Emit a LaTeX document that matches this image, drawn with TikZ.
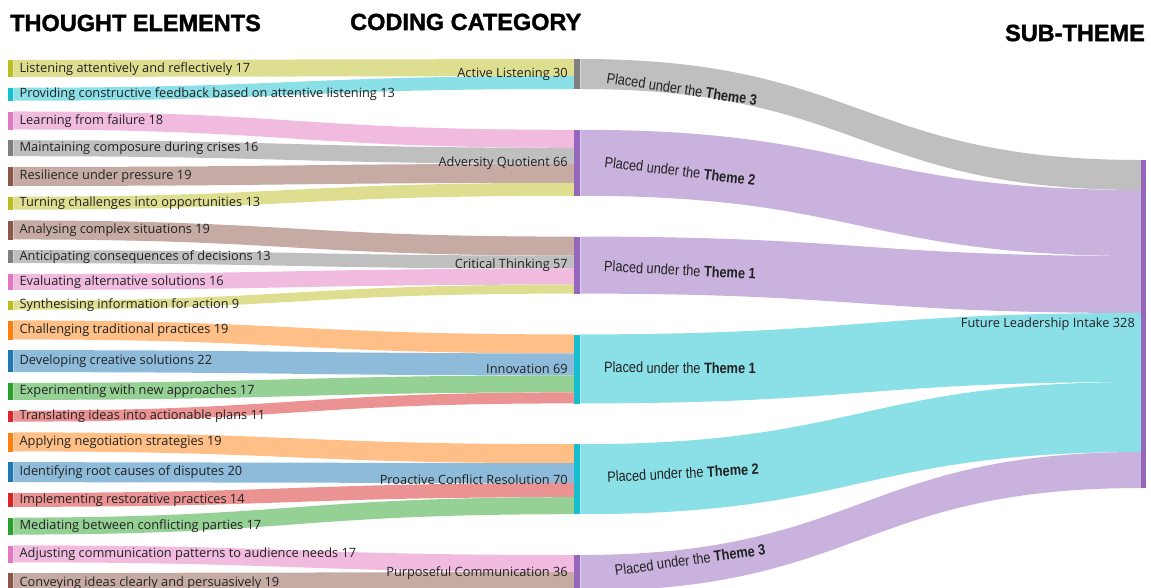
\documentclass[tikz,border=0pt]{standalone}
\usepackage{fontspec}
\usetikzlibrary{calc,positioning,backgrounds}

\newfontfamily\elemfont{Open Sans}
\newfontfamily\headfont[BoldFeatures={FakeBold=1.5}]{Liberation Sans}
\newfontfamily\themefont[FakeStretch=0.85]{Liberation Sans}

\definecolor{cOlive}{HTML}{BCBD22}
\definecolor{cCyan}{HTML}{17BECF}
\definecolor{cPink}{HTML}{E377C2}
\definecolor{cGrey}{HTML}{7F7F7F}
\definecolor{cBrown}{HTML}{8C564B}
\definecolor{cOrange}{HTML}{FF7F0E}
\definecolor{cBlue}{HTML}{1F77B4}
\definecolor{cGreen}{HTML}{2CA02C}
\definecolor{cRed}{HTML}{D62728}
\definecolor{cPurple}{HTML}{9467BD}
\definecolor{ink}{HTML}{222222}

\tikzset{
  elem/.style={fill=#1, anchor=north west, minimum width=5.5pt, inner sep=0pt},
  cat/.style={fill=#1, anchor=north west, minimum width=6pt, inner sep=0pt},
  elemlabel/.style={font=\elemfont\fontsize{12.8}{15}\selectfont, text=ink, inner sep=0pt},
  themelabel/.style={font=\themefont\fontsize{15}{17}\selectfont, text=ink, inner sep=0pt},
  head/.style={font=\headfont\bfseries\fontsize{23.5}{26}\selectfont, inner sep=0pt}
}

% band from a node (offset down its side) to another node
\newcommand\flowband[6]{%
  \fill[#6!50!white] ($(#1.north east)+(0,#2)$) .. controls +(280,0) and +(-280,0) ..
    ($(#3.north west)+(0,#4)$) -- ++(0,#5) .. controls +(-280,0) and +(280,0) ..
    ($(#1.north east)+(0,#2+#5)$) -- cycle;}

\begin{document}
\begin{tikzpicture}[x=1pt,y=-1pt]
  \useasboundingbox (0,0) rectangle (1151,587);
  \clip (0,0) rectangle (1151,587);

  \node[head, anchor=west] (h1) at (10,23) {THOUGHT ELEMENTS};
  \node[head, anchor=west] (h2) at (350,22) {CODING CATEGORY};
  \node[head, anchor=east] (h3) at (1145,33) {SUB-THEME};

  % thought elements
  \node[elem=cOlive, minimum height=17] (listen) at (7.5,60) {};
  \node[elem=cCyan, minimum height=13] (provide) at (7.5,87.74) {};
  \node[elem=cPink, minimum height=18] (learn) at (7.5,111.48) {};
  \node[elem=cGrey, minimum height=16] (compose) at (7.5,140.22) {};
  \node[elem=cBrown, minimum height=19] (resil) at (7.5,166.96) {};
  \node[elem=cOlive, minimum height=13] (turn) at (7.5,196.7) {};
  \node[elem=cBrown, minimum height=19] (analyse) at (7.5,220.44) {};
  \node[elem=cGrey, minimum height=13] (anticip) at (7.5,250.18) {};
  \node[elem=cPink, minimum height=16] (evaluate) at (7.5,273.92) {};
  \node[elem=cOlive, minimum height=9] (synth) at (7.5,300.66) {};
  \node[elem=cOrange, minimum height=19] (challenge) at (7.5,320.4) {};
  \node[elem=cBlue, minimum height=22] (develop) at (7.5,350.14) {};
  \node[elem=cGreen, minimum height=17] (experiment) at (7.5,382.88) {};
  \node[elem=cRed, minimum height=11] (translate) at (7.5,410.62) {};
  \node[elem=cOrange, minimum height=19] (negotiate) at (7.5,432.36) {};
  \node[elem=cBlue, minimum height=20] (rootcause) at (7.5,462.1) {};
  \node[elem=cRed, minimum height=14] (restore) at (7.5,492.84) {};
  \node[elem=cGreen, minimum height=17] (mediate) at (7.5,517.58) {};
  \node[elem=cPink, minimum height=17] (adjust) at (7.5,545.32) {};
  \node[elem=cBrown, minimum height=19] (convey) at (7.5,573.06) {};

  % coding categories
  \node[cat=cGrey, minimum height=30] (actlisten) at (574,59) {};
  \node[cat=cPurple, minimum height=66] (adversity) at (574,129.8) {};
  \node[cat=cPurple, minimum height=57] (critical) at (574,236.6) {};
  \node[cat=cCyan, minimum height=69] (innov) at (574,334.4) {};
  \node[cat=cCyan, minimum height=70] (conflict) at (574,444.2) {};
  \node[cat=cPurple, minimum height=36] (purpcomm) at (574,555) {};

  % sub-theme
  \node[cat=cPurple, minimum width=5pt, minimum height=328] (intake) at (1141,160) {};

  \begin{pgfonlayer}{background}
    \flowband{listen}{0}{actlisten}{0}{17}{cOlive}
    \flowband{provide}{0}{actlisten}{17}{13}{cCyan}
    \flowband{learn}{0}{adversity}{0}{18}{cPink}
    \flowband{compose}{0}{adversity}{18}{16}{cGrey}
    \flowband{resil}{0}{adversity}{34}{19}{cBrown}
    \flowband{turn}{0}{adversity}{53}{13}{cOlive}
    \flowband{analyse}{0}{critical}{0}{19}{cBrown}
    \flowband{anticip}{0}{critical}{19}{13}{cGrey}
    \flowband{evaluate}{0}{critical}{32}{16}{cPink}
    \flowband{synth}{0}{critical}{48}{9}{cOlive}
    \flowband{challenge}{0}{innov}{0}{19}{cOrange}
    \flowband{develop}{0}{innov}{19}{22}{cBlue}
    \flowband{experiment}{0}{innov}{41}{17}{cGreen}
    \flowband{translate}{0}{innov}{58}{11}{cRed}
    \flowband{negotiate}{0}{conflict}{0}{19}{cOrange}
    \flowband{rootcause}{0}{conflict}{19}{20}{cBlue}
    \flowband{restore}{0}{conflict}{39}{14}{cRed}
    \flowband{mediate}{0}{conflict}{53}{17}{cGreen}
    \flowband{adjust}{0}{purpcomm}{0}{17}{cPink}
    \flowband{convey}{0}{purpcomm}{17}{19}{cBrown}

    \flowband{actlisten}{0}{intake}{0}{30}{cGrey}
    \flowband{adversity}{0}{intake}{30}{66}{cPurple}
    \flowband{critical}{0}{intake}{96}{57}{cPurple}
    \flowband{innov}{0}{intake}{153}{69}{cCyan}
    \flowband{conflict}{0}{intake}{222}{70}{cCyan}
    \flowband{purpcomm}{0}{intake}{292}{36}{cPurple}
  \end{pgfonlayer}

  \node[elemlabel, right=6pt of listen] (listenlab) {Listening attentively and reflectively 17};
  \node[elemlabel, right=6pt of provide] (providelab) {Providing constructive feedback based on attentive listening 13};
  \node[elemlabel, right=6pt of learn] (learnlab) {Learning from failure 18};
  \node[elemlabel, right=6pt of compose] (composelab) {Maintaining composure during crises 16};
  \node[elemlabel, right=6pt of resil] (resillab) {Resilience under pressure 19};
  \node[elemlabel, right=6pt of turn] (turnlab) {Turning challenges into opportunities 13};
  \node[elemlabel, right=6pt of analyse] (analyselab) {Analysing complex situations 19};
  \node[elemlabel, right=6pt of anticip] (anticiplab) {Anticipating consequences of decisions 13};
  \node[elemlabel, right=6pt of evaluate] (evaluatelab) {Evaluating alternative solutions 16};
  \node[elemlabel, right=6pt of synth] (synthlab) {Synthesising information for action 9};
  \node[elemlabel, right=6pt of challenge] (challengelab) {Challenging traditional practices 19};
  \node[elemlabel, right=6pt of develop] (developlab) {Developing creative solutions 22};
  \node[elemlabel, right=6pt of experiment] (experimentlab) {Experimenting with new approaches 17};
  \node[elemlabel, right=6pt of translate] (translatelab) {Translating ideas into actionable plans 11};
  \node[elemlabel, right=6pt of negotiate] (negotiatelab) {Applying negotiation strategies 19};
  \node[elemlabel, right=6pt of rootcause] (rootcauselab) {Identifying root causes of disputes 20};
  \node[elemlabel, right=6pt of restore] (restorelab) {Implementing restorative practices 14};
  \node[elemlabel, right=6pt of mediate] (mediatelab) {Mediating between conflicting parties 17};
  \node[elemlabel, right=6pt of adjust] (adjustlab) {Adjusting communication patterns to audience needs 17};
  \node[elemlabel, right=6pt of convey] (conveylab) {Conveying ideas clearly and persuasively 19};

  \node[elemlabel, left=6pt of actlisten] (actlistenlab) {Active Listening 30};
  \node[elemlabel, left=6pt of adversity] (adversitylab) {Adversity Quotient 66};
  \node[elemlabel, left=6pt of critical] (criticallab) {Critical Thinking 57};
  \node[elemlabel, left=6pt of innov] (innovlab) {Innovation 69};
  \node[elemlabel, left=6pt of conflict] (conflictlab) {Proactive Conflict Resolution 70};
  \node[elemlabel, left=6pt of purpcomm] (purpcommlab) {Purposeful Communication 36};
  \node[elemlabel, left=6pt of intake] (intakelab) {Future Leadership Intake 328};

  \node[themelabel, rotate=-8.5] (th3a) at (682,89) {Placed under the \textbf{Theme 3}};
  \node[themelabel, rotate=-7] (th2a) at (680,171) {Placed under the \textbf{Theme 2}};
  \node[themelabel, rotate=-3] (th1a) at (680,270) {Placed under the \textbf{Theme 1}};
  \node[themelabel, rotate=-0.5] (th1b) at (680,368) {Placed under the \textbf{Theme 1}};
  \node[themelabel, rotate=3] (th2b) at (683,473) {Placed under the \textbf{Theme 2}};
  \node[themelabel, rotate=8] (th3b) at (690,560) {Placed under the \textbf{Theme 3}};
\end{tikzpicture}
\end{document}
